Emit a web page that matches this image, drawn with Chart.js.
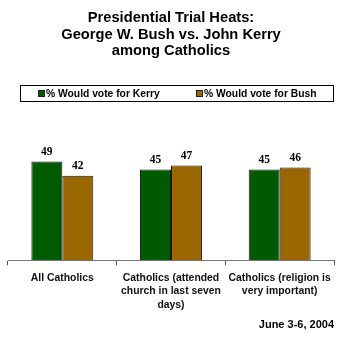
<!DOCTYPE html>
<html>
<head>
<meta charset="utf-8">
<script src="https://cdn.jsdelivr.net/npm/chart.js@4"></script>
<style>
    html, body { margin: 0; padding: 0; background: #fff; }
    #wrap { position: relative; width: 350px; height: 339px; }
</style>
</head>
<body>
<div id="wrap"><canvas id="trialChart"></canvas></div>
<script>
// Trial heat data
const categories = [
    ['All Catholics'],
    ['Catholics (attended', 'church in last seven', 'days)'],
    ['Catholics (religion is', 'very important)']
];
const kerryValues = [49, 45, 45];
const bushValues = [42, 47, 46];
const seriesNames = ['% Would vote for Kerry', '% Would vote for Bush'];
const titleLines = ['Presidential Trial Heats:', 'George W. Bush vs. John Kerry', 'among Catholics'];
const dateNote = 'June 3-6, 2004';

const FONT = 'Arial, "Liberation Sans", sans-serif';

// draws the value above each bar
const valueLabels = {
    id: 'valueLabels',
    afterDatasetsDraw(chart) {
        const ctx = chart.ctx;
        ctx.save();
        ctx.font = 'bold 11.5px "Liberation Serif", "Times New Roman", serif';
        ctx.fillStyle = '#000';
        ctx.textAlign = 'center';
        ctx.textBaseline = 'bottom';
        chart.data.datasets.forEach((ds, i) => {
            chart.getDatasetMeta(i).data.forEach((bar, j) => {
                ctx.fillText(ds.data[j], bar.x, bar.y - 4);
            });
        });
        ctx.restore();
    }
};

// boxed legend in one row, like the original
const boxedLegend = {
    id: 'boxedLegend',
    afterDraw(chart) {
        const ctx = chart.ctx;
        const itemX = [38, 196];
        ctx.save();
        ctx.strokeStyle = '#000';
        ctx.lineWidth = 1;
        ctx.strokeRect(20.5, 85.5, 313, 16);
        ctx.font = 'bold 10.3px ' + FONT;
        ctx.textBaseline = 'middle';
        ctx.textAlign = 'left';
        chart.data.datasets.forEach((ds, i) => {
            ctx.fillStyle = ds.backgroundColor;
            ctx.fillRect(itemX[i] + 0.5, 90.5, 6, 6);
            ctx.strokeStyle = '#222';
            ctx.strokeRect(itemX[i] + 0.5, 90.5, 6, 6);
            ctx.fillStyle = '#000';
            ctx.fillText(ds.label, itemX[i] + 8, 94);
        });
        ctx.restore();
    }
};

new Chart(document.getElementById('trialChart'), {
    type: 'bar',
    data: {
        labels: categories,
        datasets: [{
            label: seriesNames[0],
            data: kerryValues,
            backgroundColor: '#005a00',
            borderColor: '#1a1a1a',
            borderWidth: 1,
            barPercentage: 1,
            categoryPercentage: 0.57
        }, {
            label: seriesNames[1],
            data: bushValues,
            backgroundColor: '#9a6600',
            borderColor: '#1a1a1a',
            borderWidth: 1,
            barPercentage: 1,
            categoryPercentage: 0.57
        }]
    },
    options: {
        responsive: true,
        maintainAspectRatio: false,
        animation: false,
        layout: { padding: { left: 8, right: 16, top: 0, bottom: 7 } },
        scales: {
            x: {
                grid: {
                    display: true,
                    drawOnChartArea: false,
                    offset: true,
                    tickLength: 5,
                    color: '#555'
                },
                border: { display: true, color: '#777', width: 1 },
                ticks: {
                    color: '#111',
                    font: { family: FONT, size: 10.4, weight: 'bold', lineHeight: 1.3 },
                    maxRotation: 0,
                    autoSkip: false,
                    padding: 6
                }
            },
            y: {
                display: false,
                min: 0,
                max: 60
            }
        },
        plugins: {
            title: {
                display: true,
                text: titleLines,
                color: '#000',
                font: { family: FONT, size: 14.7, weight: 'bold', lineHeight: 1.12 },
                padding: { top: 10, bottom: 80 }
            },
            subtitle: {
                display: true,
                text: dateNote,
                position: 'bottom',
                align: 'end',
                color: '#000',
                font: { family: FONT, size: 11, weight: 'bold' },
                padding: { top: 1, bottom: 0 }
            },
            legend: { display: false },
            tooltip: { enabled: false }
        }
    },
    plugins: [valueLabels, boxedLegend]
});
</script>
</body>
</html>
